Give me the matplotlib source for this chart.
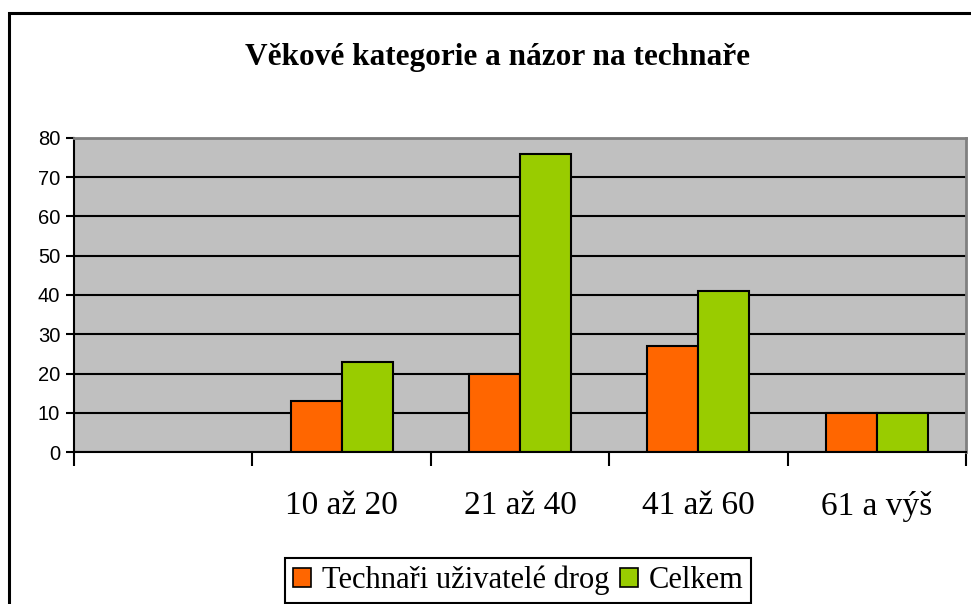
import matplotlib
matplotlib.use("Agg")
import matplotlib.pyplot as plt
from matplotlib.patches import Rectangle, Patch
import numpy as np

categories = ["", "10 až 20", "21 až 40", "41 až 60", "61 a výš"]
series_names = ["Technaři uživatelé drog", "Celkem"]
technari = [None, 13, 20, 27, 10]
celkem = [None, 23, 76, 41, 10]
colors = ["#FF6600", "#99CC00"]
title = "Věkové kategorie a názor na technaře"
yticks = [0, 10, 20, 30, 40, 50, 60, 70, 80]

W, H = 971, 604
fig = plt.figure(figsize=(W / 100, H / 100), dpi=100)

def fx(px):
    return px / W

def fy(py):
    return 1 - py / H

# outer chart frame
fig.patches.append(Rectangle((fx(9), fy(700)), fx(1000), fy(13) - fy(700),
                             transform=fig.transFigure, fill=False,
                             edgecolor="black", linewidth=2.2, zorder=0))

ax = fig.add_axes([fx(74), fy(452), fx(966) - fx(74), fy(138) - fy(452)])
ax.set_facecolor("#C0C0C0")

x = np.arange(len(categories))
bw = 1 / 3.5
for i, (vals, col) in enumerate(zip([technari, celkem], colors)):
    xs = [xi for xi, v in zip(x, vals) if v is not None]
    vs = [v for v in vals if v is not None]
    ax.bar(np.array(xs) + (i - 0.5) * bw, vs, width=bw, color=col,
           edgecolor="black", linewidth=1.5, zorder=3)

ax.set_xlim(-0.5, len(categories) - 0.5)
ax.set_ylim(0, 80)
ax.set_yticks(yticks)
ax.yaxis.grid(True, color="black", linewidth=1.5, zorder=1)
ax.set_axisbelow(True)

ax.set_xticks(np.arange(-0.5, len(categories)), [""] * (len(categories) + 1))
ax.set_xticks(x, categories, minor=True)
ax.tick_params(axis="x", which="major", length=10, width=1.5, direction="out", color="black")
ax.tick_params(axis="x", which="minor", length=0, pad=28)
ax.tick_params(axis="y", length=6, width=1.5, direction="out", color="black", pad=4)
for lab in ax.get_xticklabels(minor=True):
    lab.set_fontfamily("Liberation Serif")
    lab.set_fontsize(24)
for lab in ax.get_yticklabels():
    lab.set_fontfamily("Liberation Sans")
    lab.set_fontsize(14.5)

ax.spines["left"].set_color("black")
ax.spines["left"].set_linewidth(1.5)
ax.spines["bottom"].set_color("black")
ax.spines["bottom"].set_linewidth(1.5)
ax.spines["bottom"].set_zorder(5)
ax.spines["top"].set_color("#808080")
ax.spines["top"].set_linewidth(2)
ax.spines["right"].set_color("#808080")
ax.spines["right"].set_linewidth(2)

fig.text(fx(497), fy(57), title, ha="center", va="center",
         fontfamily="Liberation Serif", fontweight="bold", fontsize=22.5)

handles = [Patch(facecolor=c, edgecolor="black", linewidth=1.2) for c in colors]
leg = fig.legend(handles, series_names, loc="upper left",
                 bbox_to_anchor=(fx(285), fy(558)), bbox_transform=fig.transFigure,
                 ncol=2, frameon=True, fancybox=False, framealpha=1,
                 edgecolor="black", borderpad=0.25, handlelength=0.6,
                 handleheight=0.6, handletextpad=0.35, columnspacing=0.35,
                 borderaxespad=0,
                 prop={"family": "Liberation Serif", "size": 22})
leg.get_frame().set_linewidth(1.5)

fig.savefig("out.png", dpi=100)
